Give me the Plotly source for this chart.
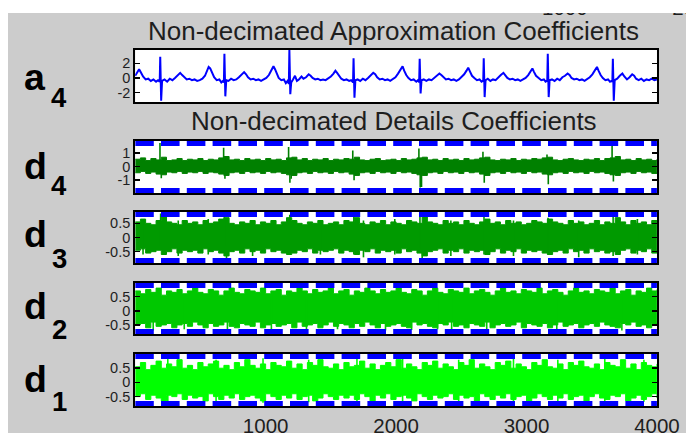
import plotly.graph_objects as go

W, H = 686, 433              # target picture size (all positions below are in these pixels)
FW, FH = 710, 445            # CSS size of the figure (the photograph squeezes width by 686/710)
KX = FW / W                  # horizontal compensation (dash lengths)

# ---------------- data ----------------
x_tick_vals = [1000, 2000, 3000, 4000]
x_tick_text = ['1000', '2000', '3000', '4000']
cut_label_x = [564, 694]          # partly hidden labels of an axis above the figure (pixels)
cut_label_text = ['1000', '2000']

# Approximation coefficients a4 (sample index, value)
a4_x = [0, 15, 30, 45, 60, 80, 100, 120, 140, 160, 175, 188,
        192, 199, 206,
        225, 245, 265, 285, 305, 325, 345, 360, 375, 395, 415, 435, 455, 475, 495, 515, 535, 550, 563, 575, 590, 605, 625, 645, 660, 672, 680,
        684, 691, 698,
        715, 735, 755, 775, 795, 815, 835, 850, 865, 885, 905, 925, 945, 965, 985, 1005, 1025, 1045, 1060, 1072, 1085, 1100, 1120, 1140, 1155, 1168, 1178,
        1182, 1189, 1196,
        1210, 1225, 1240, 1255, 1275, 1290, 1310, 1330, 1345, 1360, 1380, 1400, 1420, 1440, 1460, 1480, 1500, 1520, 1535, 1548, 1565, 1580, 1600, 1620, 1640, 1655, 1670,
        1674, 1681, 1688,
        1705, 1725, 1745, 1765, 1785, 1805, 1825, 1840, 1855, 1875, 1895, 1915, 1935, 1955, 1975, 1995, 2015, 2035, 2050, 2062, 2078, 2095, 2115, 2135, 2155, 2168, 2177,
        2181, 2188, 2195,
        2212, 2232, 2252, 2272, 2292, 2312, 2332, 2347, 2362, 2382, 2402, 2422, 2442, 2462, 2482, 2502, 2522, 2540, 2553, 2566, 2582, 2600, 2620, 2640, 2655, 2664, 2668,
        2672, 2679, 2686,
        2703, 2723, 2743, 2763, 2783, 2803, 2823, 2838, 2853, 2873, 2893, 2913, 2933, 2953, 2973, 2993, 3013, 3033, 3045, 3058, 3073, 3093, 3113, 3133, 3146, 3155, 3159,
        3163, 3170, 3177,
        3195, 3215, 3235, 3255, 3275, 3295, 3315, 3330, 3345, 3365, 3385, 3405, 3425, 3445, 3465, 3485, 3505, 3525, 3540, 3552, 3568, 3585, 3605, 3625, 3640, 3652, 3658,
        3662, 3669, 3676,
        3695, 3715, 3735, 3750, 3770, 3790, 3810, 3825, 3840, 3860, 3880, 3900, 3920, 3940, 3960, 3980, 4000]
a4_y = [0.3, 0.8, 1.2, 0.7, 0.2, -0.2, -0.1, -0.4, -0.2, -0.5, -0.3, -0.5,
        2.9, -3.1, -0.4,
        -0.2, -0.5, -0.1, -0.3, 0.0, 0.3, 0.7, 0.4, 0.1, -0.2, -0.1, -0.3, -0.2, -0.4, -0.3, -0.1, 0.3, 0.9, 1.5, 1.3, 0.6, 0.1, -0.3, -0.2, -0.6, -0.4, -0.6,
        3.3, -2.5, -0.3,
        -0.4, -0.1, -0.3, -0.2, 0.1, 0.4, 0.8, 0.5, 0.1, -0.2, -0.1, -0.3, -0.2, -0.4, -0.2, 0.0, 0.4, 1.1, 1.6, 1.2, 0.5, 0.0, -0.3, -0.2, -0.7, -0.4, -0.8,
        3.8, -2.2, -0.6,
        -0.2, 0.3, -0.4, -0.2, 0.2, -0.1, 0.1, 0.5, 0.3, 0.0, -0.2, -0.1, -0.3, -0.2, -0.3, -0.1, 0.2, 0.6, 1.0, 0.7, 0.2, -0.1, -0.3, -0.2, -0.4, -0.3, -0.6,
        2.7, -2.7, -0.3,
        -0.2, -0.4, -0.1, -0.3, 0.0, 0.3, 0.7, 0.5, 0.1, -0.2, -0.1, -0.3, -0.2, -0.4, -0.2, 0.1, 0.6, 1.2, 1.6, 1.0, 0.4, 0.0, -0.3, -0.2, -0.5, -0.3, -0.6,
        2.6, -2.1, -0.3,
        -0.2, -0.4, -0.2, -0.3, 0.0, 0.3, 0.6, 0.4, 0.1, -0.2, -0.1, -0.3, -0.2, -0.4, -0.2, 0.1, 0.5, 1.0, 1.4, 0.9, 0.3, 0.0, -0.3, -0.2, -0.5, -0.4, -0.5,
        2.7, -2.6, -0.3,
        -0.1, -0.4, -0.2, -0.3, 0.1, 0.4, 0.7, 0.4, 0.0, -0.2, -0.1, -0.3, -0.2, -0.4, -0.2, 0.0, 0.4, 0.9, 1.3, 0.8, 0.3, 0.0, -0.3, -0.2, -0.5, -0.4, -0.5,
        3.3, -2.6, -0.3,
        -0.2, -0.4, -0.1, -0.3, 0.1, 0.3, 0.6, 0.4, 0.0, -0.2, -0.1, -0.3, -0.2, -0.4, -0.2, 0.1, 0.5, 1.1, 1.5, 1.0, 0.4, 0.0, -0.3, -0.2, -0.5, -0.4, -0.5,
        2.6, -3.1, -0.3,
        -0.1, 0.3, 0.6, 0.2, -0.2, 0.1, 0.5, 0.3, -0.1, -0.3, -0.1, -0.4, -0.2, -0.3, -0.1, -0.3, -0.2]

# Details coefficients: envelope (upper / lower) read every 40 samples
env_x = list(range(0, 4001, 40))

d4_hi = [0.55, 0.65, 0.45, 0.60, 0.50, 0.70, 0.45, 0.50, 0.60, 0.45,
         0.55, 0.50, 0.60, 0.45, 0.55, 0.50, 0.65, 0.75, 0.50, 0.55,
         0.45, 0.60, 0.50, 0.55, 0.45, 0.60, 0.50, 0.55, 0.45, 0.65,
         0.70, 0.50, 0.60, 0.45, 0.55, 0.50, 0.60, 0.45, 0.55, 0.50,
         0.60, 0.55, 0.70, 0.50, 0.45, 0.55, 0.60, 0.45, 0.50, 0.55,
         0.45, 0.60, 0.50, 0.55, 0.65, 0.70, 0.50, 0.55, 0.45, 0.60,
         0.50, 0.55, 0.45, 0.60, 0.50, 0.55, 0.65, 0.70, 0.50, 0.45,
         0.55, 0.50, 0.60, 0.45, 0.55, 0.50, 0.60, 0.55, 0.65, 0.70,
         0.50, 0.45, 0.55, 0.60, 0.50, 0.45, 0.55, 0.50, 0.60, 0.45,
         0.60, 0.65, 0.75, 0.50, 0.55, 0.45, 0.60, 0.50, 0.55, 0.45, 0.55]
d4_lo = [-0.45, -0.35, -0.50, -0.40, -0.55, -0.60, -0.40, -0.45, -0.35, -0.50,
         -0.40, -0.45, -0.35, -0.50, -0.40, -0.45, -0.55, -0.65, -0.45, -0.40,
         -0.50, -0.35, -0.45, -0.40, -0.50, -0.35, -0.45, -0.40, -0.50, -0.60,
         -0.65, -0.45, -0.40, -0.50, -0.35, -0.45, -0.40, -0.50, -0.35, -0.45,
         -0.40, -0.55, -0.65, -0.45, -0.40, -0.50, -0.35, -0.45, -0.40, -0.50,
         -0.35, -0.45, -0.40, -0.50, -0.60, -0.65, -0.45, -0.40, -0.50, -0.35,
         -0.45, -0.40, -0.50, -0.35, -0.45, -0.40, -0.55, -0.65, -0.45, -0.40,
         -0.50, -0.35, -0.45, -0.40, -0.50, -0.35, -0.45, -0.40, -0.55, -0.60,
         -0.45, -0.40, -0.50, -0.35, -0.45, -0.40, -0.50, -0.35, -0.45, -0.40,
         -0.50, -0.60, -0.65, -0.45, -0.40, -0.50, -0.35, -0.45, -0.40, -0.50, -0.40]
d4_spk_x = [190, 200, 678, 688, 1176, 1186, 1196, 1668, 1678, 2175, 2185, 2195, 2666, 2676, 3157, 3167, 3656, 3666]
d4_spk_hi = [1.75, 0.5, 1.4, 0.5, 1.45, 0.5, 0.4, 1.2, 0.5, 1.35, 0.6, 0.4, 1.1, 0.5, 0.9, 0.5, 1.6, 0.5]
d4_spk_lo = [-0.4, -0.85, -0.4, -0.9, -0.4, -1.2, -0.9, -0.4, -1.0, -0.4, -1.55, -1.5, -0.4, -1.2, -0.4, -1.3, -0.4, -1.1]

d3_hi = [0.55, 0.65, 0.50, 0.45, 0.60, 0.80, 0.55, 0.50, 0.45, 0.60,
         0.50, 0.55, 0.45, 0.60, 0.50, 0.55, 0.65, 0.70, 0.50, 0.45,
         0.55, 0.50, 0.60, 0.45, 0.55, 0.50, 0.60, 0.45, 0.55, 0.70,
         0.60, 0.50, 0.45, 0.55, 0.50, 0.60, 0.45, 0.50, 0.55, 0.45,
         0.60, 0.55, 0.70, 0.50, 0.45, 0.55, 0.50, 0.60, 0.45, 0.55,
         0.50, 0.45, 0.60, 0.55, 0.50, 0.75, 0.55, 0.50, 0.45, 0.60,
         0.50, 0.55, 0.45, 0.60, 0.50, 0.45, 0.55, 0.65, 0.50, 0.55,
         0.45, 0.60, 0.50, 0.55, 0.45, 0.50, 0.60, 0.55, 0.50, 0.65,
         0.55, 0.50, 0.45, 0.60, 0.50, 0.55, 0.45, 0.50, 0.60, 0.45,
         0.55, 0.50, 0.70, 0.55, 0.45, 0.60, 0.50, 0.55, 0.45, 0.60, 0.50]
d3_lo = [-0.45, -0.40, -0.55, -0.50, -0.45, -0.60, -0.50, -0.40, -0.55, -0.45,
         -0.50, -0.45, -0.55, -0.40, -0.50, -0.45, -0.55, -0.65, -0.50, -0.45,
         -0.55, -0.40, -0.50, -0.45, -0.55, -0.40, -0.50, -0.45, -0.55, -0.60,
         -0.55, -0.45, -0.50, -0.40, -0.55, -0.45, -0.50, -0.45, -0.40, -0.55,
         -0.45, -0.50, -0.60, -0.45, -0.50, -0.40, -0.55, -0.45, -0.50, -0.45,
         -0.55, -0.40, -0.50, -0.45, -0.55, -0.65, -0.50, -0.45, -0.40, -0.55,
         -0.45, -0.50, -0.40, -0.55, -0.45, -0.50, -0.45, -0.60, -0.50, -0.40,
         -0.55, -0.45, -0.50, -0.40, -0.55, -0.45, -0.50, -0.45, -0.55, -0.60,
         -0.50, -0.45, -0.55, -0.40, -0.50, -0.45, -0.55, -0.40, -0.50, -0.45,
         -0.55, -0.50, -0.60, -0.45, -0.40, -0.55, -0.45, -0.50, -0.40, -0.55, -0.45]
d3_spk_x = [60, 195, 330, 560, 684, 700, 900, 1185, 1420, 1676, 1750, 1990, 2183, 2200, 2420, 2674, 2900, 3165, 3400, 3664, 3850]
d3_spk_hi = [0.65, 0.85, 0.6, 0.65, 0.75, 0.3, 0.6, 0.8, 0.6, 0.75, 0.6, 0.65, 0.85, 0.3, 0.6, 0.75, 0.6, 0.7, 0.6, 0.8, 0.65]
d3_spk_lo = [-0.6, -0.3, -0.65, -0.6, -0.3, -0.8, -0.65, -0.6, -0.6, -0.6, -0.7, -0.6, -0.4, -0.8, -0.65, -0.6, -0.65, -0.6, -0.7, -0.65, -0.6]

d2_hi = [0.70, 0.60, 0.75, 0.65, 0.80, 0.55, 0.70, 0.65, 0.75, 0.60,
         0.70, 0.80, 0.65, 0.60, 0.75, 0.70, 0.55, 0.70, 0.80, 0.65,
         0.60, 0.75, 0.70, 0.65, 0.80, 0.60, 0.70, 0.75, 0.55, 0.70,
         0.65, 0.80, 0.70, 0.60, 0.75, 0.65, 0.70, 0.80, 0.60, 0.70,
         0.75, 0.55, 0.70, 0.65, 0.80, 0.70, 0.60, 0.75, 0.65, 0.70,
         0.80, 0.65, 0.60, 0.75, 0.70, 0.55, 0.70, 0.80, 0.65, 0.60,
         0.75, 0.70, 0.65, 0.80, 0.60, 0.70, 0.75, 0.65, 0.55, 0.70,
         0.80, 0.65, 0.70, 0.60, 0.75, 0.70, 0.65, 0.80, 0.60, 0.70,
         0.75, 0.65, 0.55, 0.70, 0.80, 0.65, 0.70, 0.60, 0.75, 0.70,
         0.65, 0.80, 0.60, 0.70, 0.75, 0.55, 0.70, 0.65, 0.80, 0.70, 0.75]
d2_lo = [-0.50, -0.45, -0.60, -0.40, -0.55, -0.50, -0.45, -0.60, -0.50, -0.45,
         -0.55, -0.40, -0.50, -0.60, -0.45, -0.55, -0.50, -0.40, -0.55, -0.60,
         -0.45, -0.50, -0.55, -0.40, -0.60, -0.50, -0.45, -0.55, -0.50, -0.45,
         -0.60, -0.40, -0.55, -0.50, -0.45, -0.60, -0.50, -0.40, -0.55, -0.45,
         -0.50, -0.60, -0.45, -0.55, -0.40, -0.50, -0.60, -0.45, -0.55, -0.50,
         -0.45, -0.55, -0.60, -0.40, -0.50, -0.45, -0.55, -0.60, -0.45, -0.50,
         -0.40, -0.55, -0.50, -0.60, -0.45, -0.50, -0.55, -0.40, -0.60, -0.50,
         -0.45, -0.55, -0.50, -0.40, -0.60, -0.45, -0.50, -0.55, -0.45, -0.60,
         -0.50, -0.40, -0.55, -0.50, -0.45, -0.60, -0.50, -0.45, -0.55, -0.40,
         -0.50, -0.55, -0.60, -0.45, -0.50, -0.40, -0.55, -0.50, -0.60, -0.45, -0.50]
d2_spk_x = [138, 376, 707, 1044, 1313, 1551, 1919, 2119, 2318, 2426, 2695, 3232, 3731]
d2_spk_hi = [0.5, 0.5, 0.5, 0.5, 0.5, 0.5, 0.5, 0.5, 0.5, 0.5, 0.5, 0.5, 0.5]
d2_spk_lo = [-0.7, -0.65, -0.7, -0.65, -0.72, -0.65, -0.7, -0.68, -0.65, -0.72, -0.65, -0.75, -0.7]

d1_hi = [0.55, 0.70, 0.45, 0.60, 0.75, 0.50, 0.65, 0.55, 0.80, 0.50,
         0.60, 0.45, 0.70, 0.55, 0.65, 0.75, 0.50, 0.60, 0.45, 0.70,
         0.55, 0.80, 0.60, 0.50, 0.65, 0.45, 0.70, 0.60, 0.55, 0.75,
         0.50, 0.65, 0.45, 0.70, 0.60, 0.80, 0.55, 0.50, 0.65, 0.45,
         0.70, 0.55, 0.60, 0.75, 0.50, 0.65, 0.45, 0.60, 0.70, 0.55,
         0.80, 0.50, 0.65, 0.55, 0.45, 0.70, 0.60, 0.75, 0.50, 0.65,
         0.55, 0.45, 0.70, 0.60, 0.80, 0.50, 0.65, 0.55, 0.45, 0.70,
         0.60, 0.75, 0.50, 0.65, 0.55, 0.45, 0.70, 0.60, 0.80, 0.55,
         0.50, 0.65, 0.45, 0.70, 0.60, 0.75, 0.55, 0.50, 0.65, 0.45,
         0.70, 0.60, 0.55, 0.80, 0.50, 0.65, 0.45, 0.70, 0.60, 0.55, 0.65]
d1_lo = [-0.50, -0.40, -0.60, -0.45, -0.55, -0.65, -0.45, -0.50, -0.40, -0.60,
         -0.45, -0.55, -0.50, -0.65, -0.40, -0.50, -0.60, -0.45, -0.55, -0.40,
         -0.60, -0.50, -0.45, -0.55, -0.65, -0.40, -0.50, -0.60, -0.45, -0.55,
         -0.40, -0.60, -0.50, -0.45, -0.65, -0.55, -0.40, -0.50, -0.60, -0.45,
         -0.55, -0.45, -0.60, -0.40, -0.50, -0.65, -0.45, -0.55, -0.40, -0.60,
         -0.50, -0.45, -0.55, -0.65, -0.40, -0.50, -0.60, -0.45, -0.55, -0.50,
         -0.40, -0.60, -0.45, -0.55, -0.50, -0.65, -0.40, -0.50, -0.60, -0.45,
         -0.55, -0.40, -0.60, -0.50, -0.45, -0.65, -0.55, -0.40, -0.50, -0.60,
         -0.45, -0.55, -0.40, -0.60, -0.50, -0.45, -0.65, -0.50, -0.40, -0.55,
         -0.60, -0.45, -0.50, -0.40, -0.65, -0.55, -0.45, -0.60, -0.50, -0.40, -0.55]
d1_spk_x = [250, 620, 980, 1330, 1700, 2050, 2480, 2900, 3240, 3600, 3900]
d1_spk_hi = [0.85, 0.8, 0.85, 0.8, 0.82, 0.85, 0.8, 0.85, 0.8, 0.85, 0.8]
d1_spk_lo = [-0.7, -0.68, -0.72, -0.7, -0.68, -0.7, -0.72, -0.7, -0.78, -0.7, -0.68]

# ---------------- styling / layout ----------------
BG = '#cccccc'
TXT = '#1e1e1e'
SANS = 'Liberation Sans, Arial, sans-serif'


def fx(px):  # target pixel x -> paper fraction
    return px / W


def fy(py):  # target pixel y -> paper fraction (vertical is not rescaled)
    return 1 - py / FH


X0, X1 = 135, 656  # pixel extent of the axes

panels = [
    # letter, sub, top px, bottom px, y-range, tickvals, ticktext, colour, series
    ('a', '4', 50, 102, [-3.27, 3.81], [-2, 0, 2], ['-2', '0', '2'], '#0000ff', None),
    ('d', '4', 141, 193, [-1.95, 1.90], [-1, 0, 1], ['-1', '0', '1'], '#008000',
     (d4_hi, d4_lo, d4_spk_x, d4_spk_hi, d4_spk_lo)),
    ('d', '3', 212, 263, [-0.90, 0.90], [-0.5, 0, 0.5], ['-0.5', '0', '0.5'], '#009a00',
     (d3_hi, d3_lo, d3_spk_x, d3_spk_hi, d3_spk_lo)),
    ('d', '2', 283, 334, [-0.82, 0.98], [-0.5, 0, 0.5], ['-0.5', '0', '0.5'], '#00c800',
     (d2_hi, d2_lo, d2_spk_x, d2_spk_hi, d2_spk_lo)),
    ('d', '1', 354, 406, [-0.83, 1.00], [-0.5, 0, 0.5], ['-0.5', '0', '0.5'], '#00ff00',
     (d1_hi, d1_lo, d1_spk_x, d1_spk_hi, d1_spk_lo)),
]
label_y = [(77, 97), (166, 185), (234, 258), (306, 329), (379, 401)]

fig = go.Figure()
layout = {}
shapes = []
annotations = []


def axn(kind, i):
    return kind if i == 1 else f'{kind}{i}'


def ref(k, i):
    return k if i == 1 else f'{k}{i}'


dash = f'{18 * KX:.1f}px,{7 * KX:.1f}px'

for i, (let, sub, top, bot, yr, tv, tt, col, ser) in enumerate(panels, start=1):
    xr, yrf = ref('x', i), ref('y', i)
    if ser is None:
        fig.add_trace(go.Scatter(x=a4_x, y=a4_y, mode='lines',
                                 line=dict(color=col, width=2),
                                 xaxis=xr, yaxis=yrf, showlegend=False, hoverinfo='skip'))
    else:
        hi, lo, sx, shi, slo = ser
        fig.add_trace(go.Scatter(x=env_x, y=lo, mode='lines',
                                 line=dict(color=col, width=1, shape='hv'),
                                 xaxis=xr, yaxis=yrf, showlegend=False, hoverinfo='skip'))
        fig.add_trace(go.Scatter(x=env_x, y=hi, mode='lines', fill='tonexty', fillcolor=col,
                                 line=dict(color=col, width=1, shape='hv'),
                                 xaxis=xr, yaxis=yrf, showlegend=False, hoverinfo='skip'))
        px, py = [], []
        for xv, h, l in zip(sx, shi, slo):
            px += [xv, xv, None]
            py += [l, h, None]
        fig.add_trace(go.Scatter(x=px, y=py, mode='lines',
                                 line=dict(color=col, width=1.6),
                                 xaxis=xr, yaxis=yrf, showlegend=False, hoverinfo='skip'))
        # blue dashed limit lines along the top and bottom of the box
        for yv in (yr[0], yr[1]):
            fig.add_trace(go.Scatter(x=[0, 4000], y=[yv, yv], mode='lines',
                                     line=dict(color='#0000ff', width=10, dash=dash),
                                     xaxis=xr, yaxis=yrf, showlegend=False, hoverinfo='skip'))

    last = (i == len(panels))
    layout[axn('xaxis', i)] = dict(
        domain=[fx(X0), fx(X1)], range=[0, 4000], anchor=yrf,
        showline=True, linecolor='black', linewidth=2, mirror=True,
        showgrid=False, zeroline=False, ticks='',
        showticklabels=last, tickvals=x_tick_vals, ticktext=x_tick_text,
        tickfont=dict(family=SANS, size=20.5, color=TXT), fixedrange=True)
    layout[axn('yaxis', i)] = dict(
        domain=[fy(bot), fy(top)], range=yr, anchor=xr,
        showline=True, linecolor='black', linewidth=2, mirror='ticks',
        showgrid=False, zeroline=False,
        ticks='inside', ticklen=5 * KX, tickwidth=1.5, tickcolor='black',
        tickvals=tv, ticktext=tt,
        tickfont=dict(family=SANS, size=14.5, color=TXT), fixedrange=True)
    shapes.append(dict(type='rect', xref=f'{xr} domain', yref=f'{yrf} domain',
                       x0=0, x1=1, y0=0, y1=1, fillcolor='white',
                       line=dict(width=0), layer='below'))
    ly, sy = label_y[i - 1]
    annotations.append(dict(text=f'<b>{let}</b>', x=fx(35), y=fy(ly), xref='paper', yref='paper',
                            showarrow=False, xanchor='center', yanchor='middle',
                            font=dict(family=SANS, size=37.5, color='black')))
    annotations.append(dict(text=f'<b>{sub}</b>', x=fx(59), y=fy(sy), xref='paper', yref='paper',
                            showarrow=False, xanchor='center', yanchor='middle',
                            font=dict(family=SANS, size=27.5, color='black')))

# partly hidden tick labels at the very top (clipped by an invisible subplot)
fig.add_trace(go.Scatter(x=cut_label_x, y=[10, 10], mode='text', text=cut_label_text,
                         textposition='middle center', cliponaxis=True,
                         textfont=dict(family=SANS, size=20.5, color=TXT),
                         xaxis='x6', yaxis='y6', showlegend=False, hoverinfo='skip'))
layout['xaxis6'] = dict(domain=[0, 1], range=[0, W], visible=False, fixedrange=True, anchor='y6')
layout['yaxis6'] = dict(domain=[fy(50), fy(13)], range=[50, 13], visible=False,
                        fixedrange=True, anchor='x6')

# white strips along the top and left edges of the screenshot
shapes.append(dict(type='rect', xref='paper', yref='paper', x0=0, x1=1, y0=fy(13), y1=1,
                   fillcolor='white', line=dict(width=0), layer='below'))
shapes.append(dict(type='rect', xref='paper', yref='paper', x0=0, x1=8 / W, y0=0, y1=1,
                   fillcolor='white', line=dict(width=0), layer='below'))

annotations.append(dict(text='Non-decimated Approximation Coefficients', x=fx(392.5), y=fy(31),
                        xref='paper', yref='paper', showarrow=False, xanchor='center', yanchor='middle',
                        font=dict(family=SANS, size=26, color=TXT)))
annotations.append(dict(text='Non-decimated Details Coefficients', x=fx(393), y=fy(121),
                        xref='paper', yref='paper', showarrow=False, xanchor='center', yanchor='middle',
                        font=dict(family=SANS, size=26, color=TXT)))

# Laid out first at (FW-16)x(FH-16) so that, with the 8 px body margin, the page is FWxFH;
# then the margin is removed and the figure fills FWxFH.
fig.update_layout(width=FW - 16, height=FH - 16, margin=dict(l=0, r=0, t=0, b=0),
                  paper_bgcolor=BG, plot_bgcolor='rgba(0,0,0,0)',
                  shapes=shapes, annotations=annotations, showlegend=False, **layout)

post = (
    "document.body.style.margin='0';"
    "document.body.style.overflow='hidden';"
    "var gd=document.getElementById('chart');"
    "gd.style.width='%dpx';gd.style.height='%dpx';"
    "Plotly.relayout(gd,{width:%d,height:%d});" % (FW, FH, FW, FH)
)

fig.write_html('out.html', include_plotlyjs=True, full_html=True, div_id='chart',
               config={'displayModeBar': False, 'staticPlot': True},
               post_script=post)
